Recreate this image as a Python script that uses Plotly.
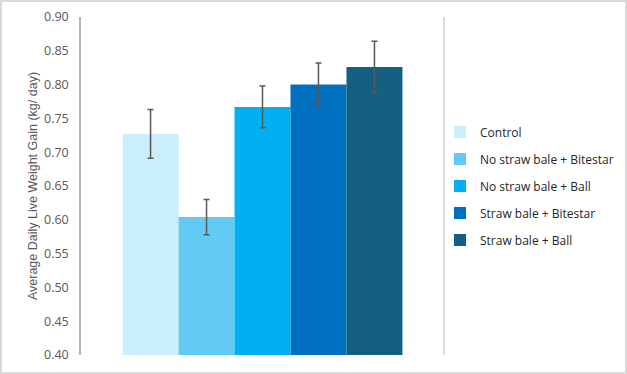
import plotly.graph_objects as go

categories = ["Control", "No straw bale + Bitestar", "No straw bale + Ball",
              "Straw bale + Bitestar", "Straw bale + Ball"]
values = [0.727, 0.604, 0.767, 0.800, 0.826]
errors = [0.036, 0.026, 0.031, 0.032, 0.038]
colors = ["#CAEEFB", "#61CBF3", "#00B0F0", "#0070C0", "#156082"]
y_ticks = [0.40, 0.45, 0.50, 0.55, 0.60, 0.65, 0.70, 0.75, 0.80, 0.85, 0.90]

W, H = 627, 374
L, R, T, B = 81, 183, 17, 19
pw = W - L - R
ph = H - T - B

fig = go.Figure()
for i, (c, v, e, col) in enumerate(zip(categories, values, errors, colors)):
    fig.add_trace(go.Bar(
        x=[""], y=[v], name=c, legendgroup=c,
        marker=dict(color=col, line=dict(width=0)),
        error_y=dict(type="data", array=[e], visible=True,
                     color="#595959", thickness=1.5, width=3),
    ))

fig.update_layout(
    width=W, height=H,
    margin=dict(l=L, r=R, t=T, b=B, pad=0, autoexpand=False),
    paper_bgcolor="white", plot_bgcolor="white",
    barmode="group", bargap=0.229, bargroupgap=0,
    font=dict(family="Open Sans, sans-serif", size=12, color="#595959"),
    showlegend=True,
    legend=dict(x=(440 - L) / pw, xanchor="left", xref="paper", y=0.5, yanchor="middle",
                font=dict(family="Open Sans, sans-serif", size=12, color="#262626"),
                traceorder="grouped", tracegroupgap=8,
                bgcolor="rgba(0,0,0,0)", itemwidth=30),
    xaxis=dict(showticklabels=False, showgrid=False, zeroline=False,
               showline=False, fixedrange=True),
    yaxis=dict(range=[0.40, 0.90], tickvals=y_ticks,
               ticktext=[f"{t:.2f}" for t in y_ticks],
               showgrid=False, zeroline=False,
               showline=True, linecolor="#b4b4b4", linewidth=1.5,
               ticks="", ticklabelstandoff=8,
               tickfont=dict(family="Open Sans, sans-serif", size=12.5, color="#595959"),
               title=dict(text="Average Daily Live Weight Gain (kg/ day)",
                          font=dict(family="Liberation Sans, Arial, sans-serif",
                                    size=12.5, color="#595959"), standoff=4)),
)

# right-hand divider line between plot and legend
fig.add_shape(type="line", xref="paper", yref="paper",
              x0=1, x1=1, y0=0, y1=1,
              line=dict(color="#d0d0d0", width=1.5))

# outer chart border
fig.add_shape(type="rect", xref="paper", yref="paper",
              x0=(-L + 1) / pw, x1=(W - L - 1) / pw,
              y0=(-B + 1) / ph, y1=(H - B - 1) / ph,
              line=dict(color="#d9d9d9", width=2), fillcolor="rgba(0,0,0,0)",
              layer="below")

fig.write_html("out.html", config={"displayModeBar": False},
               post_script="document.body.style.margin='0px';document.body.style.overflow='hidden';")
